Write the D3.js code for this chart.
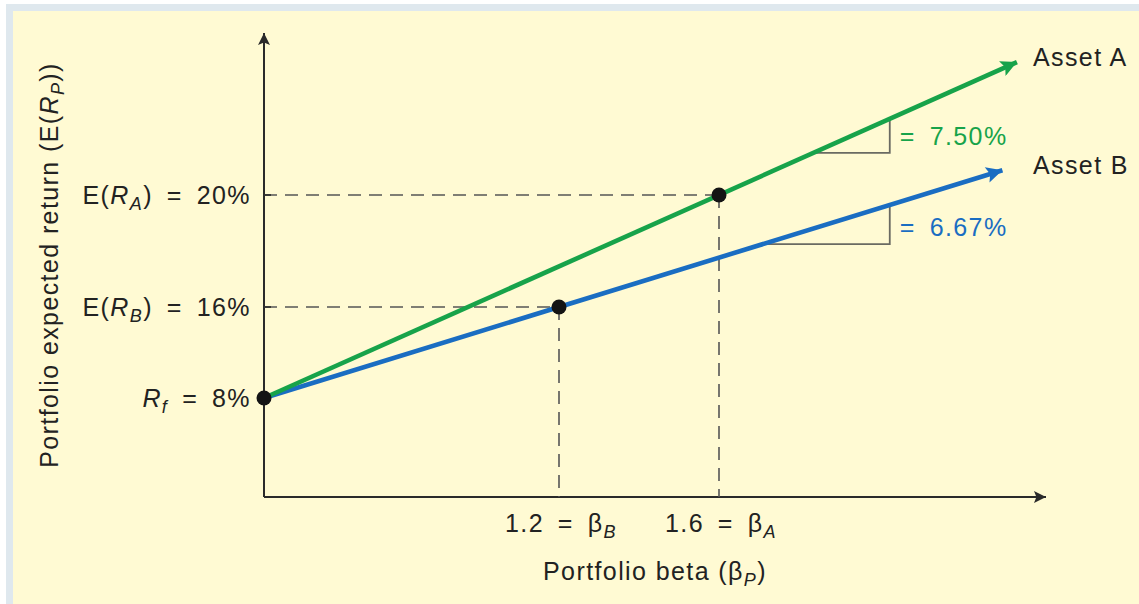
<!DOCTYPE html>
<html><head><meta charset="utf-8">
<script src="https://cdn.jsdelivr.net/npm/d3@7"></script>
<style>
html,body{margin:0;padding:0;background:#fff;}
svg{display:block;font-family:"Liberation Sans",Arial,Helvetica,sans-serif;}
</style></head>
<body><svg id="c" width="1139" height="604"></svg>
<script>
// ---- data ----
const assetNames = ["Asset A", "Asset B"];
const assetBeta = [1.6, 1.2];
const assetReturn = [20, 16];
const riskFree = 8;
const slopeLabels = ["= 7.50%", "= 6.67%"];
const arrowEndBeta = [2.42, 2.38];
const triangleBeta = [[1.86, 2.07], [1.72, 2.07]];
const xDomain = [0, 1.2, 1.6, 2.5];
const yDomain = [0, 8, 16, 20, 30];
const assetColors = ["#17a34a", "#1a6dc2"];

const svg = d3.select("#c");
const W = 1139, H = 604;
// frame
svg.append("rect").attr("x",0).attr("y",0).attr("width",W).attr("height",H).attr("fill","#ffffff");
svg.append("rect").attr("x",6).attr("y",4).attr("width",W-6).attr("height",H-4).attr("fill","#dfe8ee");
svg.append("rect").attr("x",13).attr("y",11).attr("width",W-13).attr("height",H-11).attr("fill","#fffad3");

// scales (schematic, piecewise)
const x = d3.scaleLinear().domain(xDomain).range([264, 559, 719, 1046]);
const y = d3.scaleLinear().domain(yDomain).range([497, 398, 307, 195, 33]);

const ink = "#2a2a2a";
const defs = svg.append("defs");
function marker(id, color, w, h){
  defs.append("marker").attr("id",id).attr("viewBox","0 0 10 10")
    .attr("refX",10).attr("refY",5).attr("markerWidth",w).attr("markerHeight",h)
    .attr("markerUnits","userSpaceOnUse").attr("orient","auto")
    .append("path").attr("d","M0,0 L10,5 L0,10 L2,5 Z").attr("fill",color);
}
marker("axarr", ink, 16, 12);
marker("arrA", assetColors[0], 22, 16);
marker("arrB", assetColors[1], 22, 16);

// axes
const x0 = x(0), y0 = y(0);
svg.append("line").attr("x1",x0).attr("y1",y0).attr("x2",x0).attr("y2",y(30))
  .attr("stroke",ink).attr("stroke-width",2).attr("marker-end","url(#axarr)");
svg.append("line").attr("x1",x0).attr("y1",y0).attr("x2",x(2.5)).attr("y2",y0)
  .attr("stroke",ink).attr("stroke-width",2).attr("marker-end","url(#axarr)");

// dashed reference lines
const dashCol = "#555";
assetBeta.forEach((b,i)=>{
  svg.append("line").attr("x1",x0).attr("x2",x(b)).attr("y1",y(assetReturn[i])).attr("y2",y(assetReturn[i]))
    .attr("stroke",dashCol).attr("stroke-width",1.6).attr("stroke-dasharray","13,8");
  svg.append("line").attr("x1",x(b)).attr("x2",x(b)).attr("y1",y(assetReturn[i])).attr("y2",y0)
    .attr("stroke",dashCol).attr("stroke-width",1.6).attr("stroke-dasharray","13,8");
});

// lines in pixel space
function lineY(i, px){
  const ax = x(0), ay = y(riskFree), bx = x(assetBeta[i]), by = y(assetReturn[i]);
  return ay + (by-ay)*(px-ax)/(bx-ax);
}
const FS = 25, SUB = 18, LS = 1.4;
const eq = s => s.replace(/ = /g, "\u2002=\u2002").replace(/^= /, "=\u2002");
// slope triangles
triangleBeta.forEach((tb,i)=>{
  const xa = x(tb[0]), xb = x(tb[1]);
  const yBase = lineY(i, xa);
  svg.append("path").attr("d",`M${xa},${yBase} L${xb},${yBase} L${xb},${lineY(i,xb)}`)
    .attr("fill","none").attr("stroke","#6a6a62").attr("stroke-width",1.8);
  svg.append("text").attr("x",xb+10).attr("y",yBase-8).attr("fill",assetColors[i])
    .attr("font-size",FS).attr("letter-spacing",LS).text(eq(slopeLabels[i]));
});
// asset lines (draw B first then A on top)
[1,0].forEach(i=>{
  const ex = x(arrowEndBeta[i]);
  svg.append("line").attr("x1",x(0)).attr("y1",y(riskFree)).attr("x2",ex).attr("y2",lineY(i,ex))
    .attr("stroke",assetColors[i]).attr("stroke-width",4.6)
    .attr("marker-end", i===0?"url(#arrA)":"url(#arrB)");
  svg.append("text").attr("x",1033).attr("y",lineY(i,ex)+4).attr("fill","#222")
    .attr("font-size",FS).attr("letter-spacing",LS).text(assetNames[i]);
});
// dots
const pts = [[0,riskFree]].concat(assetBeta.map((b,i)=>[b,assetReturn[i]]));
svg.selectAll("circle.pt").data(pts).enter().append("circle")
  .attr("cx",d=>x(d[0])).attr("cy",d=>y(d[1])).attr("r",7.5).attr("fill","#141414");

// small ticks on y axis
assetReturn.forEach(r=>{
  svg.append("line").attr("x1",x0).attr("x2",x0+7).attr("y1",y(r)).attr("y2",y(r))
    .attr("stroke",ink).attr("stroke-width",1.6);
});

function addParts(t, parts){
  parts.forEach(p=>{
    const s = t.append("tspan").text(eq(p.t));
    if(p.i) s.attr("font-style","italic");
    if(p.sub){ s.attr("font-size",SUB).attr("dy",6); }
    if(p.up){ s.attr("dy",-6); }
  });
}
// y labels
function yLabel(parts, yy){
  const t = svg.append("text").attr("x",251).attr("y",yy+9).attr("text-anchor","end")
    .attr("font-size",FS).attr("letter-spacing",LS).attr("fill","#222");
  addParts(t, parts);
}
yLabel([{t:"E("},{t:"R",i:1},{t:"A",i:1,sub:1},{t:") = "+assetReturn[0]+"%",up:1}], y(assetReturn[0]));
yLabel([{t:"E("},{t:"R",i:1},{t:"B",i:1,sub:1},{t:") = "+assetReturn[1]+"%",up:1}], y(assetReturn[1]));
yLabel([{t:"R",i:1},{t:"f",i:1,sub:1},{t:" = "+riskFree+"%",up:1}], y(riskFree));

// x labels
function xLabel(parts, xx, yy){
  const t = svg.append("text").attr("x",xx).attr("y",yy).attr("text-anchor","middle")
    .attr("font-size",FS).attr("letter-spacing",LS).attr("fill","#222");
  addParts(t, parts);
}
xLabel([{t:assetBeta[1].toFixed(1)+" = β"},{t:"B",i:1,sub:1}], x(assetBeta[1])+2, 532);
xLabel([{t:assetBeta[0].toFixed(1)+" = β"},{t:"A",i:1,sub:1}], x(assetBeta[0])+2, 532);
xLabel([{t:"Portfolio beta (β"},{t:"P",i:1,sub:1},{t:")",up:1}], 655, 580);

// y title
const yt = svg.append("text").attr("transform","translate(58,265) rotate(-90)")
  .attr("text-anchor","middle").attr("font-size",FS).attr("letter-spacing",LS).attr("fill","#222");
addParts(yt, [{t:"Portfolio expected return (E("},{t:"R",i:1},{t:"P",i:1,sub:1},{t:"))",up:1}]);
</script></body></html>
